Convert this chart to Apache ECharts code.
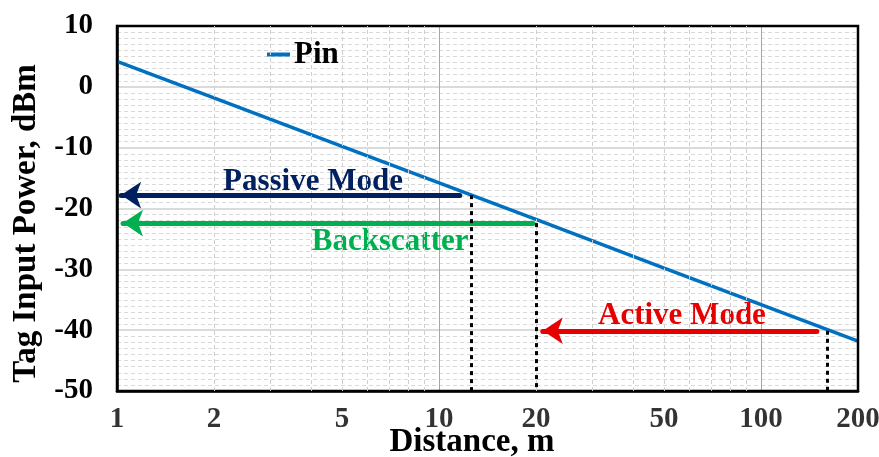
<!DOCTYPE html>
<html>
<head>
<meta charset="utf-8">
<script src="https://cdn.jsdelivr.net/npm/echarts@6/dist/echarts.min.js"></script>
<style>
  html, body { margin: 0; padding: 0; background: #fff; }
  #chart { width: 879px; height: 457px; }
</style>
</head>
<body>
<div id="chart"></div>
<script>
// Received power at the tag versus distance
const distance = [1, 2, 5, 10, 20, 50, 100, 200];
const pin = [4.2, -1.8, -9.8, -15.8, -21.8, -29.8, -35.8, -41.8];

// x-axis labels and dashed minor grid positions (log axis)
const xTickValues = [1, 2, 5, 10, 20, 50, 100, 200];
const xMinorGrid = [2, 3, 4, 5, 6, 7, 8, 9, 20, 30, 40, 50, 60, 70, 80, 90];

// Operating-mode annotations
const modeNames = ['Passive Mode', 'Backscatter', 'Active Mode'];
const modeColors = ['#002060', '#00B050', '#E60000'];
const modeLevels = [-17.8, -22.4, -40.1];   // dBm level of each arrow
const modeArrowTail = [11.6, 19.6, 149];     // arrow start distance, m
const modeArrowHead = [1.03, 1.044, 21.0];   // arrow head distance, m
const modeLimit = [12.6, 20, 160];           // dotted drop-line distance, m
const modeLabelX = [4.06, 7.05, 56.8];
const modeLabelY = [-15.6, -25.5, -37.7];

const FONT = '"Liberation Serif", "Times New Roman", serif';

const arrowLines = modeNames.map((n, i) => [
  { coord: [modeArrowTail[i], modeLevels[i]], symbol: 'none',
    lineStyle: { color: modeColors[i], width: 5, type: 'solid', cap: 'round' } },
  { coord: [modeArrowHead[i], modeLevels[i]], symbol: 'arrow', symbolSize: [20, 20],
    itemStyle: { color: modeColors[i] } }
]);
const dropLines = modeNames.map((n, i) => [
  { coord: [modeLimit[i], modeLevels[i]], symbol: 'none',
    lineStyle: { color: '#000', width: 3, type: [4, 4] } },
  { coord: [modeLimit[i], -50], symbol: 'none' }
]);

const chart = echarts.init(document.getElementById('chart'));
chart.setOption({
  animation: false,
  backgroundColor: '#fff',
  textStyle: { fontFamily: FONT },
  grid: {
    left: 117, right: 21, top: 26, bottom: 66,
    containLabel: false, outerBoundsMode: 'none',
    show: true, borderColor: '#000', borderWidth: 2.5, z: 5
  },
  legend: {
    data: [{ name: 'Pin', icon: 'rect' }], left: 262, top: 34,
    itemWidth: 23, itemHeight: 4, itemGap: 4,
    itemStyle: { color: '#0070C0' },
    textStyle: { fontFamily: FONT, fontSize: 31, fontWeight: 'bold', color: '#000', padding: [0, 0, 0, -1] }
  },
  xAxis: {
    type: 'log', logBase: 10, min: 1, max: 200,
    name: 'Distance, m', nameLocation: 'middle', nameGap: 35,
    nameTextStyle: { fontFamily: FONT, fontSize: 33, fontWeight: 'bold', color: '#000', padding: [0, 31, 0, 0] },
    axisLine: { show: true, onZero: false, lineStyle: { color: '#000', width: 2.5 } },
    axisTick: { show: false },
    axisLabel: { show: false },
    splitLine: { show: true, lineStyle: { color: '#a6a6a6', width: 1 } }
  },
  yAxis: {
    type: 'value', min: -50, max: 10, interval: 10,
    name: 'Tag Input Power, dBm', nameLocation: 'middle', nameGap: 74,
    nameTextStyle: { fontFamily: FONT, fontSize: 33, fontWeight: 'bold', color: '#000', padding: [0, 30, 0, 0] },
    axisLine: { show: true, onZero: false, lineStyle: { color: '#000', width: 2.5 } },
    axisTick: { show: false },
    axisLabel: { fontFamily: FONT, fontSize: 29, fontWeight: 'bold', color: '#000', margin: 24, padding: [14, 0, 0, 0] },
    splitLine: { show: true, lineStyle: { color: '#cfcfcf', width: 1.5 } },
    minorTick: { show: false, splitNumber: 10 },
    minorSplitLine: { show: true, lineStyle: { color: '#d9d9d9', width: 1, type: [4, 3] } }
  },
  series: [
    {
      // dashed vertical minor grid for the log axis
      name: 'minorGrid', type: 'line', data: [], silent: true, z: 1,
      markLine: {
        silent: true, symbol: 'none', animation: false,
        label: { show: false },
        lineStyle: { color: '#cfcfcf', width: 1, type: [4, 3] },
        data: xMinorGrid.map(v => ({ xAxis: v }))
      }
    },
    {
      name: 'Pin', type: 'line', z: 3,
      data: distance.map((d, i) => [d, pin[i]]),
      symbol: 'none', showSymbol: false,
      lineStyle: { color: '#0070C0', width: 3.5 },
      itemStyle: { color: '#0070C0' }
    },
    {
      // mode arrows, range drop lines and their captions
      name: 'modes', type: 'scatter', z: 4, silent: true,
      symbolSize: 0,
      data: modeNames.map((n, i) => ({
        name: n, value: [modeLabelX[i], modeLabelY[i]],
        label: { color: modeColors[i] }
      })),
      label: {
        show: true, position: 'inside',
        formatter: p => p.name,
        fontFamily: FONT, fontSize: 31, fontWeight: 'bold',
        textBorderWidth: 0, opacity: 1
      },
      markLine: {
        silent: true, animation: false,
        label: { show: false },
        data: arrowLines.concat(dropLines)
      }
    },
    {
      // x-axis tick labels at 1-2-5 positions
      name: 'xTicks', type: 'scatter', z: 4, silent: true, clip: false,
      symbolSize: 0,
      data: xTickValues.map(v => ({ name: String(v), value: [v, -50] })),
      label: {
        show: true, position: 'bottom', distance: 14,
        formatter: p => p.name,
        fontFamily: FONT, fontSize: 29, fontWeight: 'bold', color: '#000'
      }
    }
  ]
});
</script>
</body>
</html>
